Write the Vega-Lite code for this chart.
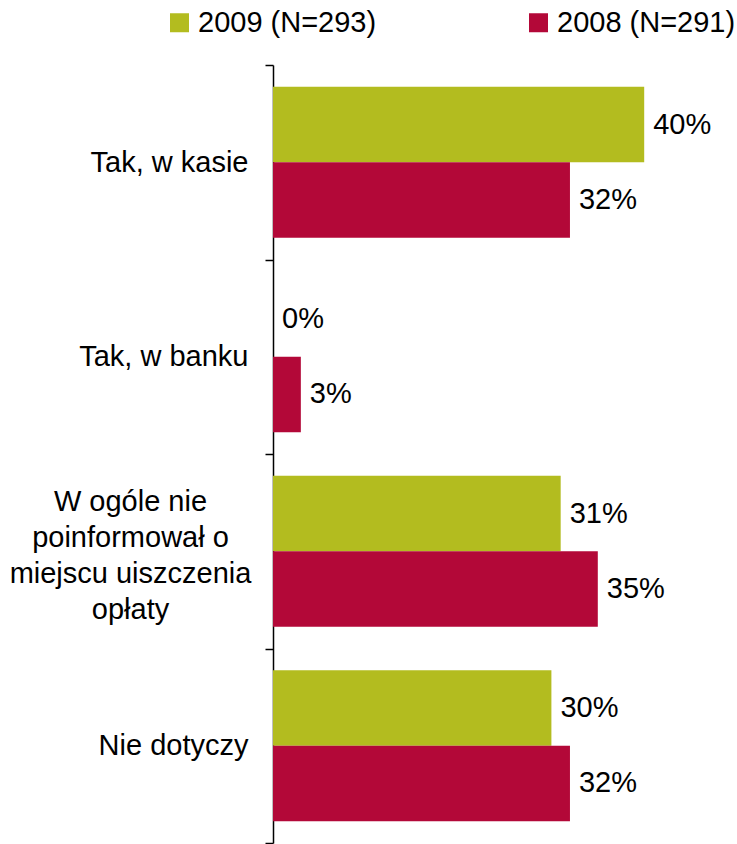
{
  "$schema": "https://vega.github.io/schema/vega-lite/v6.json",
  "width": 464,
  "height": 778,
  "autosize": {"type": "none"},
  "padding": {"left": 273, "top": 65, "right": 0, "bottom": 1},
  "config": {
    "view": {"stroke": null},
    "font": "Liberation Sans",
    "text": {"font": "Liberation Sans"}
  },
  "data": {
    "values": [
      {"cat": "Tak, w kasie", "year": "2009 (N=293)", "value": 40},
      {"cat": "Tak, w kasie", "year": "2008 (N=291)", "value": 32},
      {"cat": "Tak, w banku", "year": "2009 (N=293)", "value": 0},
      {"cat": "Tak, w banku", "year": "2008 (N=291)", "value": 3},
      {"cat": "W ogóle nie|poinformował o|miejscu uiszczenia|opłaty", "year": "2009 (N=293)", "value": 31},
      {"cat": "W ogóle nie|poinformował o|miejscu uiszczenia|opłaty", "year": "2008 (N=291)", "value": 35},
      {"cat": "Nie dotyczy", "year": "2009 (N=293)", "value": 30},
      {"cat": "Nie dotyczy", "year": "2008 (N=291)", "value": 32}
    ]
  },
  "transform": [{"calculate": "datum.value + '%'", "as": "label"}],
  "encoding": {
    "y": {
      "field": "cat",
      "type": "nominal",
      "sort": null,
      "scale": {"paddingInner": 0, "paddingOuter": 0},
      "axis": {
        "title": null,
        "labelExpr": "isString(datum.value) ? split(datum.value, '|') : ''",
        "labelFontSize": 29,
        "labelColor": "#000000",
        "labelLineHeight": 36,
        "labelLimit": 0,
        "labelAlign": {"condition": {"test": "isString(datum.value) && indexof(datum.value, '|') >= 0", "value": "center"}, "value": "right"},
        "labelPadding": {"condition": {"test": "isString(datum.value) && indexof(datum.value, '|') >= 0", "value": 135}, "value": 17},
        "labelOffset": {"condition": {"test": "isString(datum.value) && indexof(datum.value, '|') >= 0", "value": -50}, "value": 0},
        "tickBand": "extent",
        "tickSize": 8,
        "tickColor": "#000000",
        "tickWidth": 1.5,
        "domainColor": "#000000",
        "domainWidth": 1.5,
        "grid": false
      }
    },
    "yOffset": {"field": "year", "type": "nominal", "sort": ["2009 (N=293)", "2008 (N=291)"], "scale": {"paddingInner": 0, "paddingOuter": 0.29}}
  },
  "layer": [
    {
      "mark": {"type": "bar"},
      "encoding": {
        "x": {"field": "value", "type": "quantitative", "scale": {"domain": [0, 49.2]}, "axis": null},
        "color": {
          "field": "year",
          "type": "nominal",
          "scale": {"domain": ["2009 (N=293)", "2008 (N=291)"], "range": ["#B3BC1F", "#B30838"]},
          "legend": {
            "orient": "none",
            "legendX": -108,
            "legendY": -57,
            "direction": "horizontal",
            "columns": 2,
            "columnPadding": 147,
            "title": null,
            "symbolType": "square",
            "symbolSize": 361,
            "symbolStrokeWidth": 0,
            "labelFontSize": 29,
            "labelColor": "#000000",
            "labelOffset": 4,
            "labelLimit": 0
          }
        }
      }
    },
    {
      "mark": {"type": "text", "align": "left", "baseline": "middle", "dx": 9, "fontSize": 29, "color": "#000000"},
      "encoding": {
        "x": {"field": "value", "type": "quantitative"},
        "text": {"field": "label"}
      }
    }
  ]
}
